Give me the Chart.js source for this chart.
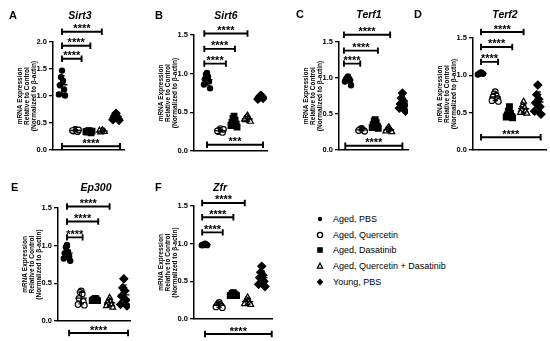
<!DOCTYPE html>
<html><head><meta charset="utf-8">
<script src="https://cdn.jsdelivr.net/npm/chart.js@4.4.1/dist/chart.umd.min.js"></script>
<style>
html,body{margin:0;padding:0;background:#fff;}
body{width:550px;height:341px;position:relative;overflow:hidden;font-family:'Liberation Sans',Arial,Helvetica,sans-serif;color:#000;}
canvas.pc{position:absolute;}
.lt{position:absolute;font-weight:bold;font-size:11px;line-height:11px;transform:translateY(-50%);}
.gt{position:absolute;font-weight:bold;font-style:italic;font-size:10.5px;line-height:11px;transform:translate(-50%,-50%);white-space:nowrap;}
#legend{position:absolute;left:313px;top:211px;font-size:9px;}
.li{height:15.8px;display:flex;align-items:center;white-space:nowrap;}
.li svg{width:14px;height:10px;margin-right:6px;}
</style>
</head><body>
<div id="legend"></div>
<script>
// ---------- data ----------
const groups = ['Aged, PBS', 'Aged, Quercetin', 'Aged, Dasatinib', 'Aged, Quercetin + Dasatinib', 'Young, PBS'];
const genes = ['Sirt3', 'Sirt6', 'Terf1', 'Terf2', 'Ep300', 'Zfr'];
const panelLetters = ['A', 'B', 'C', 'D', 'E', 'F'];
const yTitle = ['mRNA Expression', 'Relative to Control', '(Normalized to \u03b2-actin)'];
const yMaxes = [2.0, 1.5, 1.5, 1.5, 1.5, 1.5];
const yStep = 0.5;

// values per group: [Aged PBS, Aged Quercetin, Aged Dasatinib, Aged Q+D, Young PBS]
const sirt3 = [
  [1.47, 1.35, 1.28, 1.20, 1.12, 1.03, 1.01],
  [0.38, 0.37, 0.36, 0.35, 0.34, 0.36, 0.37],
  [0.36, 0.35, 0.34, 0.33, 0.32, 0.34, 0.35],
  [0.37, 0.35, 0.34, 0.33, 0.34, 0.36],
  [0.68, 0.64, 0.62, 0.60, 0.58, 0.56, 0.55]
];
const sirt6 = [
  [1.01, 0.99, 0.96, 0.93, 0.90, 0.86, 0.81],
  [0.29, 0.27, 0.26, 0.25, 0.24, 0.26, 0.28],
  [0.45, 0.42, 0.40, 0.37, 0.35, 0.33, 0.31],
  [0.46, 0.44, 0.42, 0.40, 0.39, 0.41, 0.38],
  [0.72, 0.71, 0.70, 0.69, 0.68, 0.67]
];
const terf1 = [
  [1.02, 1.00, 0.99, 0.98, 0.97, 0.95, 0.90],
  [0.30, 0.29, 0.28, 0.28, 0.27, 0.27, 0.26],
  [0.42, 0.40, 0.38, 0.35, 0.33, 0.31, 0.30],
  [0.32, 0.30, 0.29, 0.28, 0.27, 0.26, 0.25],
  [0.79, 0.72, 0.68, 0.64, 0.62, 0.58, 0.54]
];
const terf2 = [
  [1.04, 1.03, 1.03, 1.02, 1.02, 1.01],
  [0.78, 0.75, 0.73, 0.71, 0.69, 0.66, 0.65],
  [0.58, 0.52, 0.49, 0.47, 0.45, 0.44, 0.43],
  [0.65, 0.60, 0.57, 0.54, 0.52, 0.50, 0.49],
  [0.87, 0.74, 0.68, 0.63, 0.58, 0.52, 0.48]
];
const ep300 = [
  [1.01, 0.98, 0.92, 0.90, 0.86, 0.83, 0.80],
  [0.40, 0.38, 0.36, 0.30, 0.26, 0.22, 0.21],
  [0.30, 0.29, 0.28, 0.28, 0.27, 0.27],
  [0.31, 0.28, 0.26, 0.24, 0.22, 0.20, 0.18],
  [0.56, 0.44, 0.40, 0.33, 0.28, 0.22, 0.20]
];
const zfr = [
  [1.00, 0.99, 0.99, 0.98, 0.98, 0.98],
  [0.22, 0.20, 0.19, 0.18, 0.17, 0.16, 0.15],
  [0.35, 0.34, 0.33, 0.32, 0.32, 0.31, 0.31],
  [0.29, 0.26, 0.24, 0.22, 0.21, 0.20, 0.19],
  [0.70, 0.62, 0.58, 0.55, 0.50, 0.46, 0.43]
];
const panelValues = [sirt3, sirt6, terf1, terf2, ep300, zfr];

// significance brackets: [from group, to group, height (y value), label]
const sirt3Sig = [[0, 1.45, 1.69, '****'], [0, 2.1, 1.93, '****'], [0, 2.95, 2.19, '****'], [0, 4.3, 0.07, '****']];
const sirt6Sig = [[-0.2, 1.4, 1.13, '****'], [-0.2, 2.07, 1.32, '****'], [-0.2, 3.0, 1.52, '****'], [0, 4.15, 0.08, '***']];
const terf1Sig = [[-0.3, 0.9, 1.2, '****'], [-0.3, 2.2, 1.38, '****'], [-0.3, 3.1, 1.6, '****'], [-0.2, 4.0, 0.06, '****']];
const terf2Sig = [[0, 1.2, 1.18, '****'], [0, 2.2, 1.38, '****'], [0, 3.0, 1.58, '****'], [0, 4.2, 0.17, '****']];
const ep300Sig = [[0, 1.1, 1.11, '****'], [0, 2.2, 1.32, '****'], [0, 3.0, 1.52, '****'], [0.15, 4.3, -0.16, '****']];
const zfrSig = [[-0.2, 1.25, 1.15, '****'], [-0.2, 2.0, 1.35, '****'], [-0.2, 2.8, 1.54, '****'], [0, 4.7, -0.2, '****']];
const panelSig = [sirt3Sig, sirt6Sig, terf1Sig, terf2Sig, ep300Sig, zfrSig];

// ---------- layout (page pixels) ----------
const layoutGeom = [
  {axisX: 53,  pbsX: 62,  sp: 13.5, xEnd: 124, topPx: 42,  botPx: 150, letterX: 9,   titleX: 80,  rowY: 15},
  {axisX: 194, pbsX: 207, sp: 13.5, xEnd: 267, topPx: 35,  botPx: 151, letterX: 155, titleX: 226, rowY: 15},
  {axisX: 339, pbsX: 348, sp: 13.6, xEnd: 408, topPx: 42,  botPx: 150, letterX: 296, titleX: 369, rowY: 14},
  {axisX: 473, pbsX: 481, sp: 14.2, xEnd: 546, topPx: 38,  botPx: 150, letterX: 414, titleX: 505, rowY: 14},
  {axisX: 58,  pbsX: 67,  sp: 14.2, xEnd: 130, topPx: 208, botPx: 321, letterX: 11,  titleX: 96,  rowY: 187},
  {axisX: 194, pbsX: 205, sp: 14.2, xEnd: 272, topPx: 206, botPx: 319, letterX: 155, titleX: 220, rowY: 187}
];

const FONT = "'Liberation Sans', Arial, Helvetica, sans-serif";
const pointStyles = ['circle', 'circle', 'rect', 'triangle', 'rectRot'];
const pointFills = ['#000', '#fff', '#000', '#fff', '#000'];
const pointRadii = [2.6, 2.8, 4.0, 3.3, 4.0];

function jitter(i) { return (i % 2 ? -1 : 1) * Math.ceil(i / 2) * 0.075; }

const annotPlugin = {
  id: 'annot',
  afterDatasetsDraw(chart, args, opts) {
    const ctx = chart.ctx, xs = chart.scales.x, ys = chart.scales.y;
    ctx.save();
    ctx.strokeStyle = '#000';
    opts.values.forEach((arr, g) => {
      const n = arr.length;
      const mean = arr.reduce((a, b) => a + b, 0) / n;
      const sd = Math.sqrt(arr.reduce((a, b) => a + (b - mean) * (b - mean), 0) / (n - 1));
      const unit = xs.getPixelForValue(1) - xs.getPixelForValue(0);
      const cx = xs.getPixelForValue(g);
      const hw = 0.4 * unit, cw = 0.2 * unit;
      const ym = ys.getPixelForValue(mean), yt = ys.getPixelForValue(mean + sd), yb = ys.getPixelForValue(mean - sd);
      ctx.lineWidth = 1.3;
      ctx.beginPath();
      ctx.moveTo(cx - hw, ym); ctx.lineTo(cx + hw, ym);
      ctx.moveTo(cx, yt); ctx.lineTo(cx, yb);
      ctx.moveTo(cx - cw, yt); ctx.lineTo(cx + cw, yt);
      ctx.moveTo(cx - cw, yb); ctx.lineTo(cx + cw, yb);
      ctx.stroke();
    });
    ctx.restore();
  },
  afterDraw(chart, args, opts) {
    const ctx = chart.ctx, xs = chart.scales.x, ys = chart.scales.y, ca = chart.chartArea;
    ctx.save();
    ctx.strokeStyle = '#000';
    ctx.fillStyle = '#000';
    opts.sig.forEach(([a, b, h, lab]) => {
      const x1 = xs.getPixelForValue(a), x2 = xs.getPixelForValue(b), y = ys.getPixelForValue(h);
      ctx.lineWidth = 1.9;
      ctx.beginPath();
      ctx.moveTo(x1, y); ctx.lineTo(x2, y);
      ctx.moveTo(x1, y - 3.2); ctx.lineTo(x1, y + 3.2);
      ctx.moveTo(x2, y - 3.2); ctx.lineTo(x2, y + 3.2);
      ctx.stroke();
      ctx.font = 'bold 11px ' + FONT;
      ctx.textAlign = 'center';
      ctx.textBaseline = 'alphabetic';
      ctx.fillText(lab, (x1 + x2) / 2, y + 0.5);
    });
    ctx.font = 'bold 6.5px ' + FONT;
    ctx.textAlign = 'center';
    ctx.textBaseline = 'middle';
    const cy = (ca.top + ca.bottom) / 2;
    yTitle.forEach((t, i) => {
      ctx.save();
      ctx.translate(ca.left - 33 + i * 7, cy);
      ctx.rotate(-Math.PI / 2);
      ctx.fillText(t, 0, 0);
      ctx.restore();
    });
    ctx.restore();
  }
};

const yW = 45, padTop = 36, padBottom = 22, padRight = 6;

panelValues.forEach((vals, p) => {
  const g = layoutGeom[p];
  const cv = document.createElement('canvas');
  cv.className = 'pc';
  const w = (g.xEnd - g.axisX) + yW + padRight;
  const h = (g.botPx - g.topPx) + padTop + padBottom;
  cv.width = w; cv.height = h;
  cv.style.left = (g.axisX - yW) + 'px';
  cv.style.top = (g.topPx - padTop) + 'px';
  cv.style.width = w + 'px'; cv.style.height = h + 'px';
  document.body.appendChild(cv);

  const lt = document.createElement('div');
  lt.className = 'lt'; lt.textContent = panelLetters[p];
  lt.style.left = g.letterX + 'px'; lt.style.top = g.rowY + 'px';
  document.body.appendChild(lt);
  const gt = document.createElement('div');
  gt.className = 'gt'; gt.textContent = genes[p];
  gt.style.left = g.titleX + 'px'; gt.style.top = g.rowY + 'px';
  document.body.appendChild(gt);

  const datasets = vals.map((arr, gi) => ({
    label: groups[gi],
    data: arr.map((v, i) => ({x: gi + jitter(i), y: v})),
    pointStyle: pointStyles[gi],
    pointRadius: pointRadii[gi],
    backgroundColor: pointFills[gi],
    borderColor: '#000',
    borderWidth: 1.2,
    showLine: false
  }));

  new Chart(cv, {
    type: 'scatter',
    data: {datasets},
    plugins: [annotPlugin],
    options: {
      responsive: false,
      animation: false,
      devicePixelRatio: 1,
      layout: {padding: {top: padTop, bottom: padBottom, left: 0, right: padRight}},
      plugins: {
        legend: {display: false},
        tooltip: {enabled: false},
        annot: {values: vals, sig: panelSig[p]}
      },
      scales: {
        x: {
          type: 'linear',
          min: -(g.pbsX - g.axisX) / g.sp,
          max: (g.xEnd - g.pbsX) / g.sp,
          ticks: {display: false},
          grid: {display: false},
          border: {display: true, color: '#000', width: 1.5},
          afterFit: s => { s.height = 0; }
        },
        y: {
          min: 0, max: yMaxes[p],
          ticks: {stepSize: yStep, callback: v => Number(v).toFixed(1), color: '#000',
                  font: {family: FONT, size: 7.5, weight: 'bold'}, padding: 2},
          grid: {display: true, drawOnChartArea: false, drawTicks: true, tickLength: 4, color: '#000', lineWidth: 1.3},
          border: {display: true, color: '#000', width: 1.5},
          afterFit: s => { s.width = yW; }
        }
      }
    }
  });
});

const legendSvg = [
  '<svg viewBox="0 0 14 10"><circle cx="7" cy="5" r="2.2" fill="#000"/></svg>',
  '<svg viewBox="0 0 14 10"><circle cx="7" cy="5" r="2.6" fill="#fff" stroke="#000" stroke-width="1.4"/></svg>',
  '<svg viewBox="0 0 14 10"><rect x="4.2" y="2.2" width="5.6" height="5.6" fill="#000"/></svg>',
  '<svg viewBox="0 0 14 10"><polygon points="7,2.2 9.6,7.2 4.4,7.2" fill="#fff" stroke="#000" stroke-width="1.3"/></svg>',
  '<svg viewBox="0 0 14 10"><polygon points="7,1.4 10.4,5 7,8.6 3.6,5" fill="#000"/></svg>'
];
const lg = document.getElementById('legend');
groups.forEach((gname, i) => {
  const d = document.createElement('div');
  d.className = 'li';
  d.innerHTML = legendSvg[i];
  const s = document.createElement('span');
  s.textContent = gname;
  d.appendChild(s);
  lg.appendChild(d);
});
</script>
</body></html>
